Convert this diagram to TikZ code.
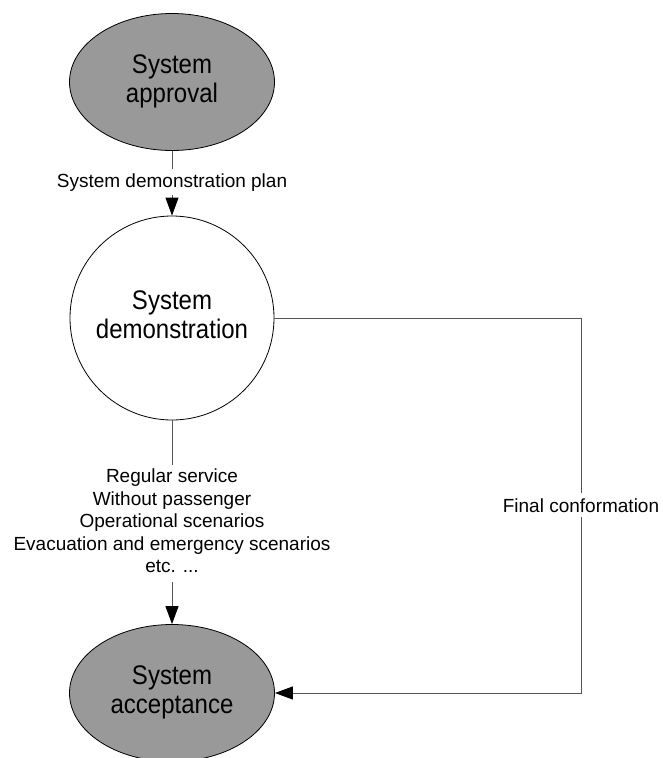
\documentclass[tikz,border=0pt]{standalone}
\usepackage{fontspec}
\setmainfont{Liberation Sans}
\usepackage{graphicx}
\usetikzlibrary{arrows.meta,shapes.geometric}

\definecolor{stagefill}{RGB}{153,153,153}
\definecolor{wirecol}{RGB}{85,85,85}

% two-line caption inside a stage, set slightly tall
\newcommand{\stagetext}[2]{\scalebox{1}[1.12]{\begin{tabular}{@{}c@{}}#1\\#2\end{tabular}}}

\begin{document}
\begin{tikzpicture}[x=1pt,y=-1pt,
  stage/.style={ellipse, draw=black, line width=0.8pt, fill=stagefill,
    minimum width=205pt, minimum height=137pt, inner sep=0pt,
    font=\fontsize{24}{26}\selectfont},
  activity/.style={circle, draw=black, line width=0.8pt, fill=white,
    minimum size=204pt, inner sep=0pt, font=\fontsize{24}{26}\selectfont},
  flowlabel/.style={font=\fontsize{19}{22.5}\selectfont, align=center,
    inner xsep=0pt, inner ysep=4pt},
  wire/.style={draw=wirecol, line width=1pt},
  flow/.style={wire, -{Triangle[length=18pt,width=13pt,color=black]}}
]
\useasboundingbox (0,0) rectangle (662,758);

% stages
\node[stage] (approval) at (172,82) {\stagetext{System}{approval}};
\node[activity] (demo) at (172,318) {\stagetext{System}{demonstration}};
\node[stage] (accept) at (172,693) {\stagetext{System}{acceptance}};

% connector labels
\node[flowlabel, anchor=base] (plan) at (172,187) {System demonstration plan};
\node[flowlabel, anchor=north] (scen) at (172,465)
  {Regular service\\Without passenger\\Operational scenarios\\Evacuation and emergency scenarios\\etc. ...};
\node[flowlabel, anchor=base, inner ysep=5pt] (final) at (581,512) {Final conformation};
\coordinate (corner) at (final.north |- demo.east);

% approval -> demonstration
\draw[wire] (approval.south) -- (plan.north);
\draw[flow] (plan.south) -- (demo.north);

% demonstration -> acceptance
\draw[wire] (demo.south) -- (scen.north);
\draw[flow] ([yshift=-5pt]scen.south) -- (accept.north);

% final conformation loop on the right
\draw[wire] (demo.east) -- (corner) -- (final.north);
\draw[flow] (final.south) |- (accept.east);
\end{tikzpicture}
\end{document}
